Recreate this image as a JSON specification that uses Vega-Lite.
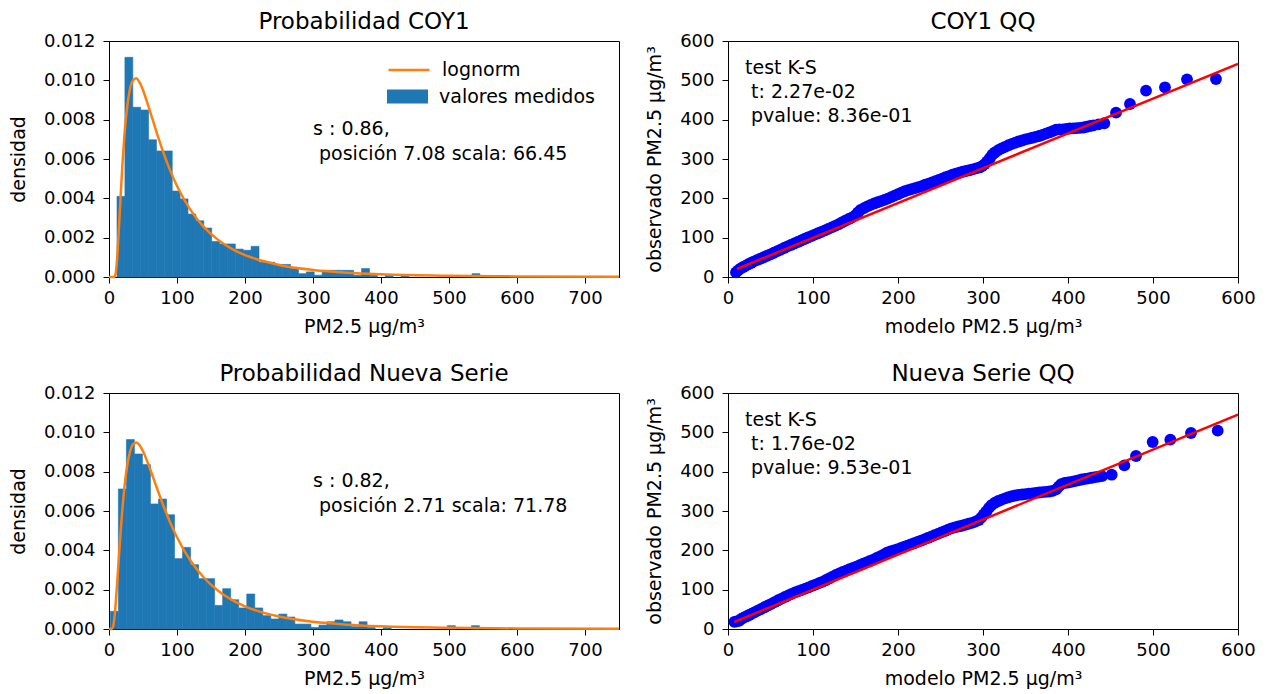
{
  "$schema": "https://vega.github.io/schema/vega-lite/v6.json",
  "background": "white",
  "padding": {"left": 8, "top": 10, "right": 5, "bottom": 5},
  "config": {
    "font": "DejaVu Sans",
    "view": {"stroke": "black", "strokeWidth": 1},
    "axis": {"grid": false, "domainColor": "black", "tickColor": "black", "labelColor": "black", "titleColor": "black", "labelFontSize": 18, "titleFontSize": 19, "titleFontWeight": "normal", "tickSize": 6, "labelFont": "DejaVu Sans", "titleFont": "DejaVu Sans", "labelFlush": false, "labelOverlap": false},
    "axisX": {"labelPadding": 6, "titlePadding": 10},
    "axisY": {"labelPadding": 8, "titlePadding": 15},
    "title": {"fontSize": 23, "fontWeight": "normal", "font": "DejaVu Sans", "color": "black", "baseline": "alphabetic", "offset": -2, "frame": "group"},
    "legend": {"labelFontSize": 19, "labelFont": "DejaVu Sans", "labelColor": "black", "padding": 0, "offset": 0, "rowPadding": 0}
  },
  "datasets": {
    "hist_coy1": [
      {"x0": 11.8, "x1": 23.4, "density": 0.0041},
      {"x0": 23.4, "x1": 35.0, "density": 0.01117},
      {"x0": 35.0, "x1": 46.6, "density": 0.00863},
      {"x0": 46.6, "x1": 58.2, "density": 0.00849},
      {"x0": 58.2, "x1": 69.8, "density": 0.00698},
      {"x0": 69.8, "x1": 81.4, "density": 0.00641},
      {"x0": 81.4, "x1": 93.0, "density": 0.00641},
      {"x0": 93.0, "x1": 104.6, "density": 0.00437},
      {"x0": 104.6, "x1": 116.2, "density": 0.00397},
      {"x0": 116.2, "x1": 127.8, "density": 0.0032},
      {"x0": 127.8, "x1": 139.4, "density": 0.00286},
      {"x0": 139.4, "x1": 151.0, "density": 0.00249},
      {"x0": 151.0, "x1": 162.6, "density": 0.00181},
      {"x0": 162.6, "x1": 174.2, "density": 0.00168},
      {"x0": 174.2, "x1": 185.8, "density": 0.00168},
      {"x0": 185.8, "x1": 197.4, "density": 0.00142},
      {"x0": 197.4, "x1": 209.0, "density": 0.00136},
      {"x0": 209.0, "x1": 220.6, "density": 0.00156},
      {"x0": 220.6, "x1": 232.2, "density": 0.00075},
      {"x0": 232.2, "x1": 243.8, "density": 0.00075},
      {"x0": 243.8, "x1": 255.4, "density": 0.00064},
      {"x0": 255.4, "x1": 267.0, "density": 0.00064},
      {"x0": 267.0, "x1": 278.6, "density": 0.00043},
      {"x0": 278.6, "x1": 290.2, "density": 0.00017},
      {"x0": 290.2, "x1": 301.8, "density": 0.00026},
      {"x0": 301.8, "x1": 313.4, "density": 0.00009},
      {"x0": 313.4, "x1": 325.0, "density": 0.00034},
      {"x0": 325.0, "x1": 336.6, "density": 0.00034},
      {"x0": 336.6, "x1": 348.2, "density": 0.00034},
      {"x0": 348.2, "x1": 359.8, "density": 0.00034},
      {"x0": 359.8, "x1": 371.4, "density": 0.00009},
      {"x0": 371.4, "x1": 383.0, "density": 0.00043},
      {"x0": 383.0, "x1": 394.6, "density": 0.00009},
      {"x0": 406.2, "x1": 417.8, "density": 0.00009},
      {"x0": 429.4, "x1": 441.0, "density": 0.00009},
      {"x0": 533.8, "x1": 545.4, "density": 0.00017}
    ],
    "hist_nueva": [
      {"x0": 1.96, "x1": 13.76, "density": 0.0009},
      {"x0": 13.76, "x1": 25.56, "density": 0.00712},
      {"x0": 25.56, "x1": 37.36, "density": 0.00963},
      {"x0": 37.36, "x1": 49.16, "density": 0.0089},
      {"x0": 49.16, "x1": 60.96, "density": 0.00836},
      {"x0": 60.96, "x1": 72.76, "density": 0.00636},
      {"x0": 72.76, "x1": 84.56, "density": 0.00661},
      {"x0": 84.56, "x1": 96.36, "density": 0.00581},
      {"x0": 96.36, "x1": 108.16, "density": 0.00358},
      {"x0": 108.16, "x1": 119.96, "density": 0.00415},
      {"x0": 119.96, "x1": 131.76, "density": 0.00327},
      {"x0": 131.76, "x1": 143.56, "density": 0.00256},
      {"x0": 143.56, "x1": 155.36, "density": 0.00256},
      {"x0": 155.36, "x1": 167.16, "density": 0.0012},
      {"x0": 167.16, "x1": 178.96, "density": 0.00205},
      {"x0": 178.96, "x1": 190.76, "density": 0.00149},
      {"x0": 190.76, "x1": 202.56, "density": 0.00107},
      {"x0": 202.56, "x1": 214.36, "density": 0.00178},
      {"x0": 214.36, "x1": 226.16, "density": 0.00107},
      {"x0": 226.16, "x1": 237.96, "density": 0.00068},
      {"x0": 237.96, "x1": 249.76, "density": 0.00051},
      {"x0": 249.76, "x1": 261.56, "density": 0.00076},
      {"x0": 261.56, "x1": 273.36, "density": 0.00061},
      {"x0": 273.36, "x1": 285.16, "density": 0.00025},
      {"x0": 285.16, "x1": 296.96, "density": 0.00025},
      {"x0": 296.96, "x1": 308.76, "density": 0.00008},
      {"x0": 308.76, "x1": 320.56, "density": 0.0002},
      {"x0": 320.56, "x1": 332.36, "density": 0.00037},
      {"x0": 332.36, "x1": 344.16, "density": 0.00046},
      {"x0": 344.16, "x1": 355.96, "density": 0.00037},
      {"x0": 355.96, "x1": 367.76, "density": 0.00012},
      {"x0": 367.76, "x1": 379.56, "density": 0.00037},
      {"x0": 379.56, "x1": 391.36, "density": 0.00008},
      {"x0": 403.16, "x1": 414.96, "density": 0.00008},
      {"x0": 497.56, "x1": 509.36, "density": 0.00017},
      {"x0": 532.96, "x1": 544.76, "density": 0.00017}
    ],
    "pdf_coy1": [
      {"x": 0, "pdf": 0}, {"x": 7.08, "pdf": 0}, {"x": 8, "pdf": 0.000002}, {"x": 10, "pdf": 0.000216},
      {"x": 12, "pdf": 0.000965}, {"x": 15, "pdf": 0.00275}, {"x": 17.5, "pdf": 0.004374}, {"x": 20, "pdf": 0.00586},
      {"x": 22.5, "pdf": 0.00711}, {"x": 25, "pdf": 0.00811}, {"x": 30, "pdf": 0.00941}, {"x": 35, "pdf": 0.00999},
      {"x": 40, "pdf": 0.0101}, {"x": 45, "pdf": 0.00989}, {"x": 50, "pdf": 0.0095}, {"x": 60, "pdf": 0.00846},
      {"x": 70, "pdf": 0.00736}, {"x": 80, "pdf": 0.00632}, {"x": 90, "pdf": 0.00541}, {"x": 100, "pdf": 0.00463},
      {"x": 120, "pdf": 0.0034}, {"x": 140, "pdf": 0.00252}, {"x": 160, "pdf": 0.0019}, {"x": 180, "pdf": 0.001445},
      {"x": 200, "pdf": 0.001115}, {"x": 250, "pdf": 0.000613}, {"x": 300, "pdf": 0.000358}, {"x": 350, "pdf": 0.000219},
      {"x": 400, "pdf": 0.0001395}, {"x": 500, "pdf": 0.0000623}, {"x": 600, "pdf": 0.0000307}, {"x": 750, "pdf": 0.0000121}
    ],
    "pdf_nueva": [
      {"x": 0, "pdf": 0}, {"x": 2.71, "pdf": 0}, {"x": 4, "pdf": 0.0000023}, {"x": 6, "pdf": 0.000126},
      {"x": 8, "pdf": 0.000585}, {"x": 10, "pdf": 0.001365}, {"x": 12.5, "pdf": 0.002598}, {"x": 15, "pdf": 0.003906},
      {"x": 17.5, "pdf": 0.005142}, {"x": 20, "pdf": 0.006236}, {"x": 22.5, "pdf": 0.007154}, {"x": 25, "pdf": 0.007893},
      {"x": 30, "pdf": 0.008893}, {"x": 35, "pdf": 0.009375}, {"x": 40, "pdf": 0.009484}, {"x": 45, "pdf": 0.009343},
      {"x": 50, "pdf": 0.009038}, {"x": 60, "pdf": 0.008177}, {"x": 70, "pdf": 0.007208}, {"x": 80, "pdf": 0.006269},
      {"x": 90, "pdf": 0.005417}, {"x": 100, "pdf": 0.004668}, {"x": 120, "pdf": 0.003467}, {"x": 140, "pdf": 0.002592},
      {"x": 160, "pdf": 0.001957}, {"x": 180, "pdf": 0.001494}, {"x": 200, "pdf": 0.001153}, {"x": 250, "pdf": 0.000631},
      {"x": 300, "pdf": 0.000364}, {"x": 350, "pdf": 0.000221}, {"x": 400, "pdf": 0.000139}, {"x": 500, "pdf": 0.0000604},
      {"x": 600, "pdf": 0.0000289}, {"x": 750, "pdf": 0.000011}
    ],
    "qq_coy1": [
      {"modelo": 9.4, "observado": 11.9}, {"modelo": 12, "observado": 17}, {"modelo": 15, "observado": 22}, {"modelo": 18, "observado": 25.5},
      {"modelo": 21, "observado": 29}, {"modelo": 24, "observado": 32.5}, {"modelo": 27, "observado": 35.5}, {"modelo": 30, "observado": 39},
      {"modelo": 34, "observado": 42.8}, {"modelo": 38, "observado": 46.5}, {"modelo": 42, "observado": 50.3}, {"modelo": 46, "observado": 54},
      {"modelo": 50, "observado": 57.7}, {"modelo": 54, "observado": 61.7}, {"modelo": 58, "observado": 65.7}, {"modelo": 62, "observado": 69.7},
      {"modelo": 66, "observado": 73.7}, {"modelo": 70, "observado": 77.7}, {"modelo": 74, "observado": 81.5}, {"modelo": 78, "observado": 85.3},
      {"modelo": 82, "observado": 89}, {"modelo": 86, "observado": 92.9}, {"modelo": 90, "observado": 96.7}, {"modelo": 94, "observado": 100.4},
      {"modelo": 98, "observado": 104}, {"modelo": 102, "observado": 107.6}, {"modelo": 106, "observado": 111.2}, {"modelo": 110, "observado": 114.9},
      {"modelo": 114, "observado": 118.5}, {"modelo": 118, "observado": 122.2}, {"modelo": 122, "observado": 126}, {"modelo": 126, "observado": 130},
      {"modelo": 130, "observado": 134}, {"modelo": 134, "observado": 138.5}, {"modelo": 138, "observado": 143}, {"modelo": 142, "observado": 147.5},
      {"modelo": 146, "observado": 151.5}, {"modelo": 150, "observado": 157}, {"modelo": 153, "observado": 164}, {"modelo": 156, "observado": 170.5},
      {"modelo": 160, "observado": 175}, {"modelo": 164, "observado": 179.5}, {"modelo": 168, "observado": 183.5}, {"modelo": 172, "observado": 187},
      {"modelo": 176, "observado": 190}, {"modelo": 180, "observado": 193}, {"modelo": 184, "observado": 196}, {"modelo": 188, "observado": 199.3},
      {"modelo": 192, "observado": 203}, {"modelo": 196, "observado": 207}, {"modelo": 200, "observado": 210.5}, {"modelo": 204, "observado": 214.5},
      {"modelo": 208, "observado": 218}, {"modelo": 212, "observado": 221}, {"modelo": 216, "observado": 223.5}, {"modelo": 220, "observado": 226},
      {"modelo": 224, "observado": 228.5}, {"modelo": 228, "observado": 231}, {"modelo": 232, "observado": 234.5}, {"modelo": 236, "observado": 237.5},
      {"modelo": 240, "observado": 240.5}, {"modelo": 244, "observado": 243.5}, {"modelo": 248, "observado": 246.7}, {"modelo": 252, "observado": 250},
      {"modelo": 256, "observado": 253.5}, {"modelo": 260, "observado": 256.5}, {"modelo": 264, "observado": 260}, {"modelo": 268, "observado": 262.5},
      {"modelo": 272, "observado": 265}, {"modelo": 276, "observado": 267.5}, {"modelo": 280, "observado": 269.5}, {"modelo": 284, "observado": 271.5},
      {"modelo": 288, "observado": 273.5}, {"modelo": 292, "observado": 276}, {"modelo": 296, "observado": 278.5}, {"modelo": 299, "observado": 282},
      {"modelo": 302, "observado": 287}, {"modelo": 305, "observado": 294}, {"modelo": 308, "observado": 302}, {"modelo": 311, "observado": 311},
      {"modelo": 314, "observado": 316.5}, {"modelo": 318, "observado": 322.5}, {"modelo": 322, "observado": 327}, {"modelo": 326, "observado": 331},
      {"modelo": 330, "observado": 335}, {"modelo": 334, "observado": 338.5}, {"modelo": 338, "observado": 341.5}, {"modelo": 342, "observado": 344.5},
      {"modelo": 346, "observado": 347}, {"modelo": 350, "observado": 350}, {"modelo": 354, "observado": 352}, {"modelo": 358, "observado": 354},
      {"modelo": 362, "observado": 356.3}, {"modelo": 366, "observado": 358.5}, {"modelo": 370, "observado": 361.5}, {"modelo": 374, "observado": 364.5},
      {"modelo": 378, "observado": 367.5}, {"modelo": 382, "observado": 371}, {"modelo": 386, "observado": 374.5}, {"modelo": 390, "observado": 375.5},
      {"modelo": 394, "observado": 375.5}, {"modelo": 398, "observado": 376.5}, {"modelo": 402, "observado": 377.5}, {"modelo": 406, "observado": 378},
      {"modelo": 410, "observado": 378.5}, {"modelo": 414, "observado": 379}, {"modelo": 418, "observado": 380}, {"modelo": 422, "observado": 382},
      {"modelo": 426, "observado": 384}, {"modelo": 430, "observado": 385.5}, {"modelo": 436, "observado": 388}, {"modelo": 442.7, "observado": 390.8},
      {"modelo": 456.5, "observado": 417.8}, {"modelo": 472.9, "observado": 439.9}, {"modelo": 491.8, "observado": 473.8}, {"modelo": 514.1, "observado": 482.3},
      {"modelo": 540, "observado": 502.6}, {"modelo": 574.1, "observado": 503.4}
    ],
    "qq_nueva": [
      {"modelo": 7.5, "observado": 18.2}, {"modelo": 10, "observado": 19.5}, {"modelo": 13, "observado": 21}, {"modelo": 16, "observado": 26},
      {"modelo": 19, "observado": 29.5}, {"modelo": 22, "observado": 32.5}, {"modelo": 25, "observado": 35.5}, {"modelo": 28, "observado": 39},
      {"modelo": 31, "observado": 42.4}, {"modelo": 35, "observado": 46.7}, {"modelo": 39, "observado": 51}, {"modelo": 43, "observado": 55.3},
      {"modelo": 47, "observado": 59.7}, {"modelo": 51, "observado": 64}, {"modelo": 55, "observado": 68.5}, {"modelo": 59, "observado": 73},
      {"modelo": 63, "observado": 77.3}, {"modelo": 67, "observado": 81.5}, {"modelo": 71, "observado": 85.5}, {"modelo": 75, "observado": 89.5},
      {"modelo": 79, "observado": 93.3}, {"modelo": 83, "observado": 96.5}, {"modelo": 87, "observado": 99.5}, {"modelo": 91, "observado": 102.8},
      {"modelo": 95, "observado": 106}, {"modelo": 99, "observado": 109.5}, {"modelo": 103, "observado": 113}, {"modelo": 107, "observado": 116.5},
      {"modelo": 111, "observado": 120}, {"modelo": 115, "observado": 124}, {"modelo": 119, "observado": 128.5}, {"modelo": 123, "observado": 133},
      {"modelo": 127, "observado": 137.5}, {"modelo": 131, "observado": 141.5}, {"modelo": 135, "observado": 145}, {"modelo": 139, "observado": 148.5},
      {"modelo": 143, "observado": 152}, {"modelo": 147, "observado": 155.3}, {"modelo": 151, "observado": 158.7}, {"modelo": 155, "observado": 162.5},
      {"modelo": 159, "observado": 166}, {"modelo": 163, "observado": 169.5}, {"modelo": 167, "observado": 173}, {"modelo": 171, "observado": 176.5},
      {"modelo": 175, "observado": 180.5}, {"modelo": 179, "observado": 184.5}, {"modelo": 183, "observado": 189}, {"modelo": 187, "observado": 194},
      {"modelo": 191, "observado": 197}, {"modelo": 195, "observado": 199.5}, {"modelo": 199, "observado": 202.5}, {"modelo": 203, "observado": 205.5},
      {"modelo": 207, "observado": 209}, {"modelo": 211, "observado": 212}, {"modelo": 215, "observado": 215}, {"modelo": 219, "observado": 218},
      {"modelo": 223, "observado": 221.5}, {"modelo": 227, "observado": 224.5}, {"modelo": 231, "observado": 228}, {"modelo": 235, "observado": 231.5},
      {"modelo": 239, "observado": 235}, {"modelo": 243, "observado": 238.5}, {"modelo": 247, "observado": 241.7}, {"modelo": 251, "observado": 245.5},
      {"modelo": 255, "observado": 249}, {"modelo": 259, "observado": 252.5}, {"modelo": 263, "observado": 256}, {"modelo": 267, "observado": 258.5},
      {"modelo": 271, "observado": 260.5}, {"modelo": 275, "observado": 262.5}, {"modelo": 279, "observado": 265}, {"modelo": 283, "observado": 267.5},
      {"modelo": 287, "observado": 270}, {"modelo": 291, "observado": 273}, {"modelo": 295, "observado": 277}, {"modelo": 298, "observado": 283},
      {"modelo": 301, "observado": 291}, {"modelo": 304, "observado": 299}, {"modelo": 307, "observado": 308}, {"modelo": 310, "observado": 315},
      {"modelo": 314, "observado": 321}, {"modelo": 318, "observado": 325.5}, {"modelo": 322, "observado": 329}, {"modelo": 326, "observado": 332},
      {"modelo": 330, "observado": 335}, {"modelo": 334, "observado": 337.5}, {"modelo": 338, "observado": 339.5}, {"modelo": 342, "observado": 341},
      {"modelo": 346, "observado": 342}, {"modelo": 350, "observado": 343}, {"modelo": 354, "observado": 344}, {"modelo": 358, "observado": 345},
      {"modelo": 362, "observado": 346}, {"modelo": 366, "observado": 347}, {"modelo": 370, "observado": 348}, {"modelo": 374, "observado": 348.7},
      {"modelo": 378, "observado": 349.5}, {"modelo": 382, "observado": 351}, {"modelo": 386, "observado": 355}, {"modelo": 389, "observado": 362},
      {"modelo": 392, "observado": 368}, {"modelo": 396, "observado": 371.2}, {"modelo": 400, "observado": 372.5}, {"modelo": 404, "observado": 374},
      {"modelo": 408, "observado": 376}, {"modelo": 412, "observado": 378}, {"modelo": 416, "observado": 380}, {"modelo": 420, "observado": 381.5},
      {"modelo": 424, "observado": 383}, {"modelo": 428, "observado": 384.5}, {"modelo": 432, "observado": 386}, {"modelo": 436, "observado": 387.5},
      {"modelo": 440, "observado": 388.5}, {"modelo": 451.4, "observado": 392.3}, {"modelo": 466.3, "observado": 416}, {"modelo": 480, "observado": 439.8},
      {"modelo": 499.6, "observado": 475.4}, {"modelo": 520.4, "observado": 481.3}, {"modelo": 544.7, "observado": 498.3}, {"modelo": 576.1, "observado": 504.2}
    ],
    "qqline_coy1": [{"modelo": 10.6, "observado": 20.4}, {"modelo": 600, "observado": 542}],
    "qqline_nueva": [{"modelo": 7.4, "observado": 17.8}, {"modelo": 600, "observado": 545.2}]
  },
  "concat": [
    {
      "width": 510, "height": 236,
      "title": {"text": "Probabilidad COY1"},
      "layer": [
        {
          "data": {"name": "hist_coy1"},
          "mark": {"type": "rect", "stroke": "#1f77b4", "strokeWidth": 0.6},
          "encoding": {
            "x": {"field": "x0", "type": "quantitative", "title": "PM2.5 μg/m³", "scale": {"domain": [0, 750], "nice": false}, "axis": {"values": [0, 100, 200, 300, 400, 500, 600, 700]}},
            "x2": {"field": "x1"},
            "y": {"field": "density", "type": "quantitative", "title": "densidad", "scale": {"domain": [0, 0.012], "nice": false}, "axis": {"values": [0, 0.002, 0.004, 0.006, 0.008, 0.01, 0.012], "format": ".3f"}},
            "y2": {"datum": 0},
            "fill": {"datum": "valores medidos", "type": "nominal", "scale": {"domain": ["valores medidos"], "range": ["#1f77b4"]}, "legend": {"orient": "none", "legendX": 278, "legendY": 35, "title": null, "symbolType": "M-1,-0.34L1,-0.34L1,0.34L-1,0.34Z", "symbolSize": 1681, "symbolStrokeWidth": 0, "symbolOpacity": 1, "labelOffset": 11}}
          }
        },
        {
          "data": {"name": "pdf_coy1"},
          "mark": {"type": "line", "strokeWidth": 2.5, "interpolate": "monotone"},
          "encoding": {
            "x": {"field": "x", "type": "quantitative", "title": "PM2.5 μg/m³", "axis": {"values": [0, 100, 200, 300, 400, 500, 600, 700]}},
            "y": {"field": "pdf", "type": "quantitative", "title": "densidad", "axis": {"values": [0, 0.002, 0.004, 0.006, 0.008, 0.01, 0.012], "format": ".3f"}},
            "stroke": {"datum": "lognorm", "type": "nominal", "scale": {"domain": ["lognorm"], "range": ["#ff7f0e"]}, "legend": {"orient": "none", "legendX": 278, "legendY": 7, "title": null, "symbolType": "stroke", "symbolSize": 1681, "symbolStrokeWidth": 2.5, "labelOffset": 11}}
          }
        },
        {
          "data": {"values": [{"texto": "s : 0.86,\n\u200b\u00a0posición 7.08 scala: 66.45"}]},
          "mark": {"type": "text", "align": "left", "baseline": "alphabetic", "fontSize": 19, "lineBreak": "\n", "lineHeight": 25, "color": "black"},
          "encoding": {
            "x": {"datum": 300, "type": "quantitative", "title": "PM2.5 μg/m³", "axis": {"values": [0, 100, 200, 300, 400, 500, 600, 700]}},
            "y": {"datum": 0.0072, "type": "quantitative", "title": "densidad", "axis": {"values": [0, 0.002, 0.004, 0.006, 0.008, 0.01, 0.012], "format": ".3f"}},
            "text": {"field": "texto"}
          }
        }
      ]
    },
    {
      "width": 510, "height": 236,
      "title": {"text": "COY1 QQ"},
      "layer": [
        {
          "data": {"name": "qq_coy1"},
          "mark": {"type": "circle", "color": "#0000ff", "opacity": 1, "size": 140},
          "encoding": {
            "x": {"field": "modelo", "type": "quantitative", "title": "modelo PM2.5 μg/m³", "scale": {"domain": [0, 600], "nice": false}, "axis": {"values": [0, 100, 200, 300, 400, 500, 600]}},
            "y": {"field": "observado", "type": "quantitative", "title": "observado PM2.5 μg/m³", "scale": {"domain": [0, 600], "nice": false}, "axis": {"values": [0, 100, 200, 300, 400, 500, 600]}}
          }
        },
        {
          "data": {"name": "qqline_coy1"},
          "mark": {"type": "line", "color": "#ff0000", "strokeWidth": 2.5},
          "encoding": {
            "x": {"field": "modelo", "type": "quantitative", "title": "modelo PM2.5 μg/m³", "axis": {"values": [0, 100, 200, 300, 400, 500, 600]}},
            "y": {"field": "observado", "type": "quantitative", "title": "observado PM2.5 μg/m³", "axis": {"values": [0, 100, 200, 300, 400, 500, 600]}}
          }
        },
        {
          "data": {"values": [{"texto": "test K-S\n\u200b\u00a0t: 2.27e-02\n\u200b\u00a0pvalue: 8.36e-01"}]},
          "mark": {"type": "text", "align": "left", "baseline": "alphabetic", "fontSize": 19, "lineBreak": "\n", "lineHeight": 24, "color": "black"},
          "encoding": {
            "x": {"datum": 20, "type": "quantitative", "title": "modelo PM2.5 μg/m³", "axis": {"values": [0, 100, 200, 300, 400, 500, 600]}},
            "y": {"datum": 516, "type": "quantitative", "title": "observado PM2.5 μg/m³", "axis": {"values": [0, 100, 200, 300, 400, 500, 600]}},
            "text": {"field": "texto"}
          }
        }
      ]
    },
    {
      "width": 510, "height": 236,
      "title": {"text": "Probabilidad Nueva Serie"},
      "layer": [
        {
          "data": {"name": "hist_nueva"},
          "mark": {"type": "rect", "stroke": "#1f77b4", "strokeWidth": 0.6},
          "encoding": {
            "x": {"field": "x0", "type": "quantitative", "title": "PM2.5 μg/m³", "scale": {"domain": [0, 750], "nice": false}, "axis": {"values": [0, 100, 200, 300, 400, 500, 600, 700]}},
            "x2": {"field": "x1"},
            "y": {"field": "density", "type": "quantitative", "title": "densidad", "scale": {"domain": [0, 0.012], "nice": false}, "axis": {"values": [0, 0.002, 0.004, 0.006, 0.008, 0.01, 0.012], "format": ".3f"}},
            "y2": {"datum": 0},
            "fill": {"datum": "valores medidos", "type": "nominal", "scale": {"domain": ["valores medidos"], "range": ["#1f77b4"]}, "legend": {"orient": "none", "legendX": 278, "legendY": 35, "title": null, "symbolType": "M-1,-0.34L1,-0.34L1,0.34L-1,0.34Z", "symbolSize": 1681, "symbolStrokeWidth": 0, "symbolOpacity": 1, "labelOffset": 11}}
          }
        },
        {
          "data": {"name": "pdf_nueva"},
          "mark": {"type": "line", "strokeWidth": 2.5, "interpolate": "monotone"},
          "encoding": {
            "x": {"field": "x", "type": "quantitative", "title": "PM2.5 μg/m³", "axis": {"values": [0, 100, 200, 300, 400, 500, 600, 700]}},
            "y": {"field": "pdf", "type": "quantitative", "title": "densidad", "axis": {"values": [0, 0.002, 0.004, 0.006, 0.008, 0.01, 0.012], "format": ".3f"}},
            "stroke": {"datum": "lognorm", "type": "nominal", "scale": {"domain": ["lognorm"], "range": ["#ff7f0e"]}, "legend": {"orient": "none", "legendX": 278, "legendY": 7, "title": null, "symbolType": "stroke", "symbolSize": 1681, "symbolStrokeWidth": 2.5, "labelOffset": 11}}
          }
        },
        {
          "data": {"values": [{"texto": "s : 0.82,\n\u200b\u00a0posición 2.71 scala: 71.78"}]},
          "mark": {"type": "text", "align": "left", "baseline": "alphabetic", "fontSize": 19, "lineBreak": "\n", "lineHeight": 25, "color": "black"},
          "encoding": {
            "x": {"datum": 300, "type": "quantitative", "title": "PM2.5 μg/m³", "axis": {"values": [0, 100, 200, 300, 400, 500, 600, 700]}},
            "y": {"datum": 0.0072, "type": "quantitative", "title": "densidad", "axis": {"values": [0, 0.002, 0.004, 0.006, 0.008, 0.01, 0.012], "format": ".3f"}},
            "text": {"field": "texto"}
          }
        }
      ]
    },
    {
      "width": 510, "height": 236,
      "title": {"text": "Nueva Serie QQ"},
      "layer": [
        {
          "data": {"name": "qq_nueva"},
          "mark": {"type": "circle", "color": "#0000ff", "opacity": 1, "size": 140},
          "encoding": {
            "x": {"field": "modelo", "type": "quantitative", "title": "modelo PM2.5 μg/m³", "scale": {"domain": [0, 600], "nice": false}, "axis": {"values": [0, 100, 200, 300, 400, 500, 600]}},
            "y": {"field": "observado", "type": "quantitative", "title": "observado PM2.5 μg/m³", "scale": {"domain": [0, 600], "nice": false}, "axis": {"values": [0, 100, 200, 300, 400, 500, 600]}}
          }
        },
        {
          "data": {"name": "qqline_nueva"},
          "mark": {"type": "line", "color": "#ff0000", "strokeWidth": 2.5},
          "encoding": {
            "x": {"field": "modelo", "type": "quantitative", "title": "modelo PM2.5 μg/m³", "axis": {"values": [0, 100, 200, 300, 400, 500, 600]}},
            "y": {"field": "observado", "type": "quantitative", "title": "observado PM2.5 μg/m³", "axis": {"values": [0, 100, 200, 300, 400, 500, 600]}}
          }
        },
        {
          "data": {"values": [{"texto": "test K-S\n\u200b\u00a0t: 1.76e-02\n\u200b\u00a0pvalue: 9.53e-01"}]},
          "mark": {"type": "text", "align": "left", "baseline": "alphabetic", "fontSize": 19, "lineBreak": "\n", "lineHeight": 24, "color": "black"},
          "encoding": {
            "x": {"datum": 20, "type": "quantitative", "title": "modelo PM2.5 μg/m³", "axis": {"values": [0, 100, 200, 300, 400, 500, 600]}},
            "y": {"datum": 516, "type": "quantitative", "title": "observado PM2.5 μg/m³", "axis": {"values": [0, 100, 200, 300, 400, 500, 600]}},
            "text": {"field": "texto"}
          }
        }
      ]
    }
  ],
  "columns": 2,
  "spacing": {"row": 116, "column": 109},
  "bounds": "flush"
}
